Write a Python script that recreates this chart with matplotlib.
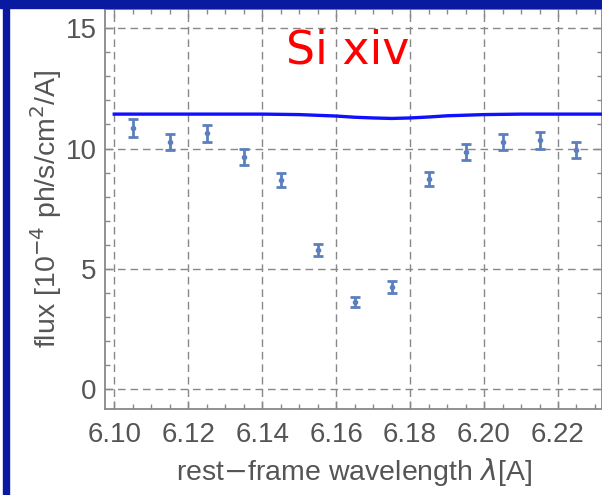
import numpy as np
import matplotlib
matplotlib.use("Agg")
import matplotlib.pyplot as plt
from matplotlib.ticker import MultipleLocator
from matplotlib.patches import Rectangle

# measured fluxes (10^-4 ph/s/cm^2/A)
wl = [6.105, 6.115, 6.125, 6.135, 6.145, 6.155, 6.165, 6.175, 6.185, 6.195, 6.205, 6.215, 6.225]
flux = [10.85, 10.27, 10.64, 9.64, 8.69, 5.78, 3.62, 4.24, 8.73, 9.85, 10.27, 10.35, 9.93]
flux_err = [0.37, 0.35, 0.35, 0.32, 0.30, 0.25, 0.22, 0.24, 0.30, 0.32, 0.33, 0.35, 0.33]

# model curve
model_wl = [6.10, 6.12, 6.14, 6.15, 6.16, 6.165, 6.17, 6.175, 6.18, 6.185, 6.19, 6.20, 6.21, 6.22, 6.232]
model_flux = [11.43, 11.43, 11.43, 11.41, 11.35, 11.30, 11.27, 11.25, 11.27, 11.31, 11.36, 11.41, 11.43, 11.43, 11.43]

label = "Si xiv"
xticks = [6.10, 6.12, 6.14, 6.16, 6.18, 6.20, 6.22]
yticks = [0, 5, 10, 15]

grey = "#555555"
matplotlib.rc("font", family=["Liberation Sans", "DejaVu Sans"])

fig = plt.figure(figsize=(6.02, 4.95), dpi=100)
ax = fig.add_axes([105 / 602, 1 - 409 / 495, 497 / 602, 400 / 495])

ax.plot(model_wl, model_flux, color="#1010ff", lw=2.4, zorder=3)
ax.errorbar(wl, flux, yerr=flux_err, fmt="o", ms=3, color="#5b80bd",
            ecolor="#5b80bd", elinewidth=2, capsize=3.5, capthick=2, zorder=4)

ax.set_xlim(6.0975, 6.2319)
ax.set_ylim(-0.83, 15.8)
ax.set_xticks(xticks)
ax.set_xticklabels(["%.2f" % t for t in xticks])
ax.set_yticks(yticks)
ax.xaxis.set_minor_locator(MultipleLocator(0.005))
ax.yaxis.set_minor_locator(MultipleLocator(1))
ax.tick_params(which="both", direction="in", top=True, right=True, color="#888888")
ax.tick_params(which="major", length=6, width=1, labelsize=20, labelcolor=grey, pad=6)
ax.tick_params(axis="x", which="major", pad=9)
ax.tick_params(which="minor", length=3.5, width=1)
ax.grid(True, which="major", ls=(0, (5.5, 3.5)), color="#888888", lw=1)
for s in ax.spines.values():
    s.set_color("#888888")
    s.set_linewidth(1.3)

ax.set_xlabel(r"rest$-$frame wavelength $\lambda$[A]", fontsize=20.5, color=grey, labelpad=6)
ax.set_ylabel(r"flux [10$^{-4}$ ph/s/cm$^2$/A]", fontsize=20.5, color=grey, labelpad=1)
ax.text(6.163, 14.05, label, color="red", fontsize=33, ha="center", va="center",
        family="DejaVu Sans")

# blue frame of the slide
fig.patches.append(Rectangle((0, 1 - 8 / 495), 1, 8 / 495, transform=fig.transFigure,
                             color="#0a1aa0", zorder=10))
fig.patches.append(Rectangle((3 / 602, 0), 6 / 602, 1, transform=fig.transFigure,
                             color="#0a1aa0", zorder=10))

fig.savefig("out.png", dpi=100)
